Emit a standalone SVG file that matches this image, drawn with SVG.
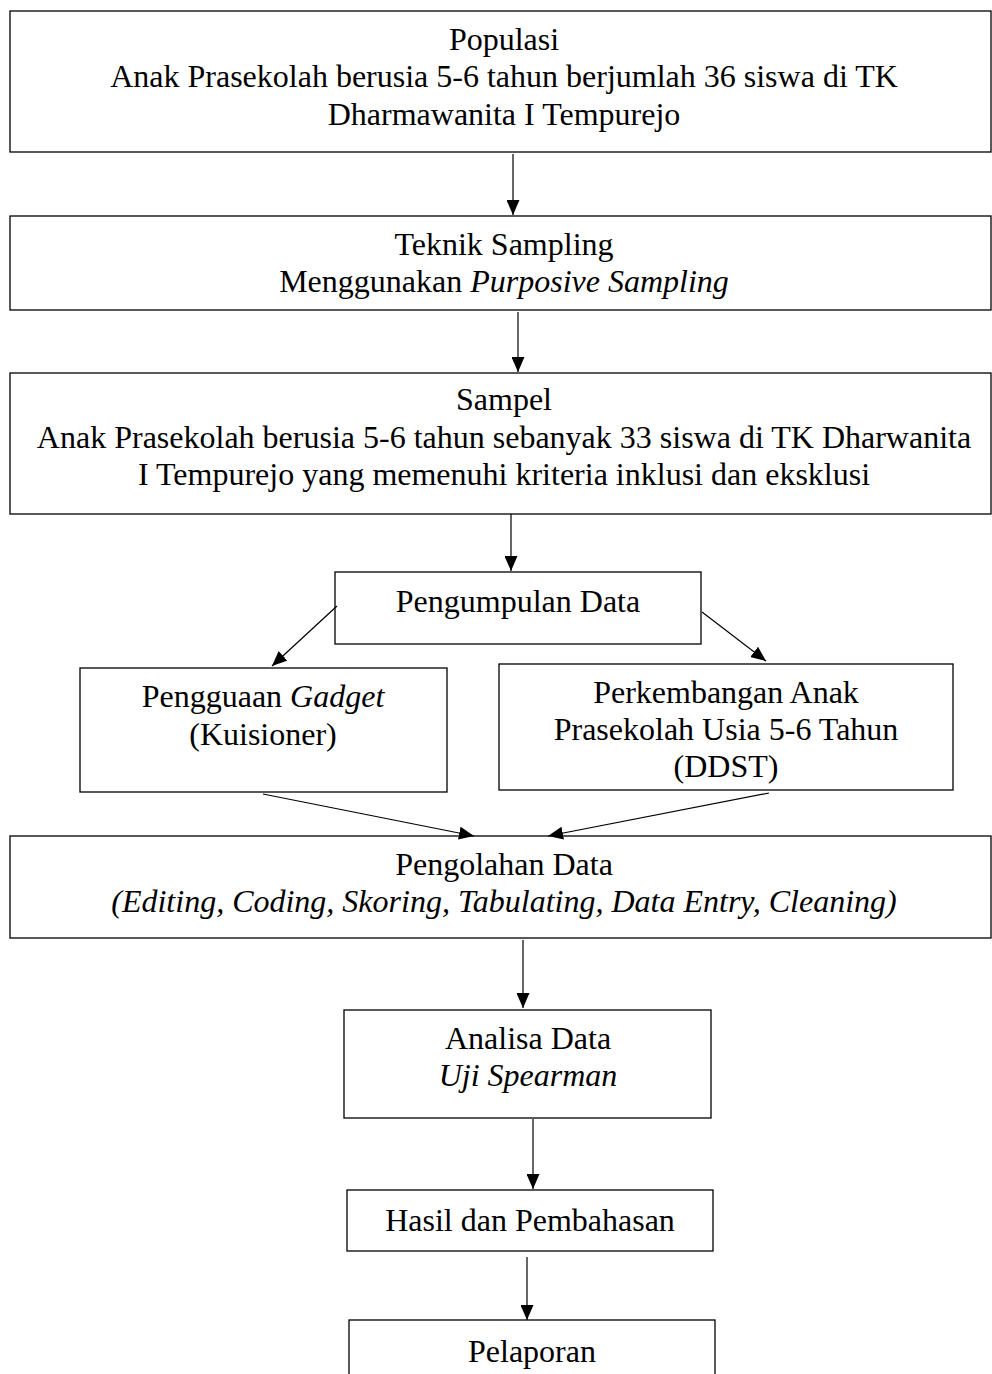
<svg xmlns="http://www.w3.org/2000/svg" width="992" height="1374" viewBox="0 0 992 1374">
<defs>
<marker id="arr" markerWidth="15" markerHeight="13" refX="15" refY="6.5" orient="auto" markerUnits="userSpaceOnUse">
<path d="M0,0 L15,6.5 L0,13 Z" fill="#000"/>
</marker>
<style>
.box{fill:#fff;stroke:#000;stroke-width:1.3}
.t{font-family:"Liberation Serif","Times New Roman",serif;font-size:32px;fill:#000;text-anchor:middle}
.i{font-style:italic}
.c{stroke:#000;stroke-width:1.2;fill:none;marker-end:url(#arr)}
</style>
</defs>
<rect width="992" height="1374" fill="#fff"/>
<g id="populasi">
<rect class="box" x="10" y="11" width="981" height="141"/>
<text class="t" x="504" y="50">Populasi</text>
<text class="t" x="504" y="87">Anak Prasekolah berusia 5-6 tahun berjumlah 36 siswa di TK</text>
<text class="t" x="504" y="125">Dharmawanita I Tempurejo</text>
</g>
<g id="teknik">
<rect class="box" x="10" y="216" width="981" height="94"/>
<text class="t" x="504" y="255">Teknik Sampling</text>
<text class="t" x="504" y="292">Menggunakan <tspan class="i">Purposive Sampling</tspan></text>
</g>
<g id="sampel">
<rect class="box" x="10" y="373" width="981" height="141"/>
<text class="t" x="504" y="410">Sampel</text>
<text class="t" x="504" y="448">Anak Prasekolah berusia 5-6 tahun sebanyak 33 siswa di TK Dharwanita</text>
<text class="t" x="504" y="485">I Tempurejo yang memenuhi kriteria inklusi dan eksklusi</text>
</g>
<g id="pengumpulan">
<rect class="box" x="335" y="572" width="366" height="72"/>
<text class="t" x="518" y="612">Pengumpulan Data</text>
</g>
<g id="gadget">
<rect class="box" x="80" y="668" width="367" height="124"/>
<text class="t" x="263" y="707">Pengguaan <tspan class="i">Gadget</tspan></text>
<text class="t" x="263" y="745">(Kuisioner)</text>
</g>
<g id="perkembangan">
<rect class="box" x="499" y="664" width="454" height="126"/>
<text class="t" x="726" y="703">Perkembangan Anak</text>
<text class="t" x="726" y="740">Prasekolah Usia 5-6 Tahun</text>
<text class="t" x="726" y="777">(DDST)</text>
</g>
<g id="pengolahan">
<rect class="box" x="10" y="836" width="981" height="102"/>
<text class="t" x="504" y="875">Pengolahan Data</text>
<text class="t i" x="504" y="912">(Editing, Coding, Skoring, Tabulating, Data Entry, Cleaning)</text>
</g>
<g id="analisa">
<rect class="box" x="344" y="1010" width="367" height="108"/>
<text class="t" x="528" y="1049">Analisa Data</text>
<text class="t i" x="528" y="1086">Uji Spearman</text>
</g>
<g id="hasil">
<rect class="box" x="347" y="1190" width="366" height="61"/>
<text class="t" x="530" y="1231">Hasil dan Pembahasan</text>
</g>
<g id="pelaporan">
<rect class="box" x="349" y="1320" width="366" height="70"/>
<text class="t" x="532" y="1362">Pelaporan</text>
</g>
<g id="connectors">
<line class="c" x1="513" y1="154" x2="513" y2="215"/>
<line class="c" x1="518" y1="312" x2="518" y2="372"/>
<line class="c" x1="511" y1="514" x2="511" y2="571"/>
<line class="c" x1="337" y1="606" x2="272" y2="666"/>
<line class="c" x1="702" y1="612" x2="766" y2="661"/>
<line class="c" x1="263" y1="794" x2="474" y2="836"/>
<line class="c" x1="769" y1="793" x2="548" y2="836"/>
<line class="c" x1="523" y1="940" x2="523" y2="1008"/>
<line class="c" x1="533" y1="1119" x2="533" y2="1189"/>
<line class="c" x1="527" y1="1257" x2="527" y2="1320"/>
</g>
</svg>
